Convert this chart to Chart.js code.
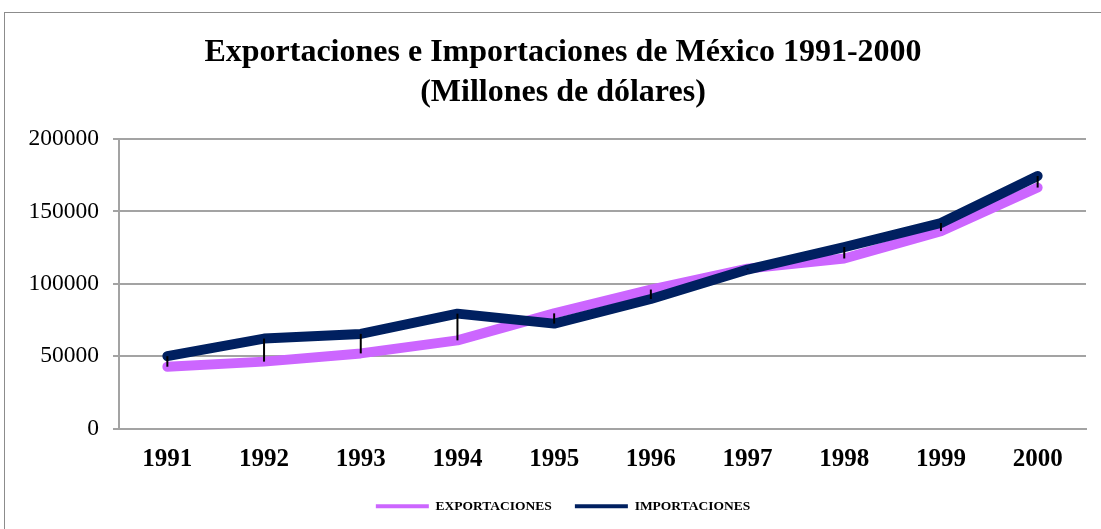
<!DOCTYPE html>
<html>
<head>
<meta charset="utf-8">
<script src="https://cdn.jsdelivr.net/npm/chart.js@4"></script>
<style>
  html, body { margin: 0; padding: 0; background: #fff; overflow: hidden; }
  body { width: 1101px; height: 529px; position: relative; }
  .marco {
    position: absolute; left: 4px; top: 12px;
    width: 1116px; height: 540px;
    border: 1px solid #8c8c8c; box-sizing: border-box;
  }
  .marco canvas { position: absolute; left: 0; top: 0; }
</style>
</head>
<body>
<div class="marco">
  <canvas id="grafica" width="1116" height="540"></canvas>
</div>
<script>
// datos (millones de dólares)
const anios = ["1991", "1992", "1993", "1994", "1995", "1996", "1997", "1998", "1999", "2000"];
const exportaciones = [42688, 46196, 51886, 60882, 79542, 95999, 110431, 117460, 136391, 166455];
const importaciones = [49967, 62129, 65367, 79346, 72453, 89469, 109808, 125373, 141975, 174458];
const ticksY = [0, 50000, 100000, 150000, 200000];

const serif = "'Liberation Serif', 'Times New Roman', serif";
const gris = "#a3a3a3";

// líneas máximo-mínimo entre las dos series
const lineasMaxMin = {
  id: "lineasMaxMin",
  afterDatasetsDraw(chart) {
    const ctx = chart.ctx;
    const y = chart.scales.y;
    const x = chart.scales.x;
    ctx.save();
    ctx.strokeStyle = "#000";
    ctx.lineWidth = 2;
    anios.forEach((a, i) => {
      const px = x.getPixelForValue(i);
      ctx.beginPath();
      ctx.moveTo(px, y.getPixelForValue(exportaciones[i]));
      ctx.lineTo(px, y.getPixelForValue(importaciones[i]));
      ctx.stroke();
    });
    ctx.restore();
  }
};

new Chart(document.getElementById("grafica"), {
  type: "line",
  data: {
    labels: anios,
    datasets: [
      {
        label: "EXPORTACIONES",
        data: exportaciones,
        borderColor: "#cc66ff",
        backgroundColor: "#cc66ff",
        borderWidth: 10,
        borderCapStyle: "round",
        borderJoinStyle: "round",
        pointRadius: 0,
        tension: 0,
        order: 2,
      },
      {
        label: "IMPORTACIONES",
        data: importaciones,
        borderColor: "#002060",
        backgroundColor: "#002060",
        borderWidth: 10,
        borderCapStyle: "round",
        borderJoinStyle: "round",
        pointRadius: 0,
        tension: 0,
        order: 1,
      },
    ],
  },
  options: {
    responsive: false,
    animation: false,
    layout: { padding: { left: 10, right: 10, top: 0, bottom: 30 } },
    plugins: {
      title: {
        display: true,
        text: ["Exportaciones e Importaciones de México 1991-2000", "(Millones de dólares)"],
        color: "#000",
        font: { family: serif, size: 32, weight: "bold", lineHeight: 1.25 },
        padding: { top: 20, bottom: 26 },
      },
      legend: {
        position: "bottom",
        labels: {
          color: "#000",
          font: { family: serif, size: 13.5, weight: "bold" },
          boxWidth: 53,
          boxHeight: 4,
          padding: 23,
          sort: (a, b) => a.datasetIndex - b.datasetIndex,
          generateLabels(chart) {
            return chart.data.datasets.map((ds, i) => ({
              text: ds.label,
              fillStyle: ds.borderColor,
              strokeStyle: ds.borderColor,
              lineWidth: 0,
              datasetIndex: i,
              fontColor: "#000",
            }));
          },
        },
      },
      tooltip: { enabled: false },
    },
    scales: {
      x: {
        offset: true,
        grid: { display: false, drawTicks: false },
        border: { display: true, color: gris, width: 2 },
        ticks: {
          color: "#000",
          padding: 16,
          font: { family: serif, size: 25, weight: "bold" },
        },
        afterFit(axis) {
          axis.height = 48;
        },
      },
      y: {
        min: 0,
        max: 200000,
        afterBuildTicks(axis) {
          axis.ticks = ticksY.map((v) => ({ value: v }));
        },
        grid: { color: gris, lineWidth: 2, tickLength: 6, drawTicks: true },
        border: { display: true, color: gris, width: 2 },
        ticks: {
          color: "#000",
          padding: 14,
          font: { family: serif, size: 23.5 },
          callback: (v) => String(v),
        },
        afterFit(axis) {
          axis.width = 104;
        },
      },
      // espacio vacío a la derecha del área de trazado
      margen: {
        type: "linear",
        position: "right",
        min: 0,
        max: 1,
        grid: { display: false, drawOnChartArea: false },
        border: { display: false },
        ticks: { display: false },
        afterFit(axis) {
          axis.width = 25;
        },
      },
    },
  },
  plugins: [lineasMaxMin],
});
</script>
</body>
</html>
